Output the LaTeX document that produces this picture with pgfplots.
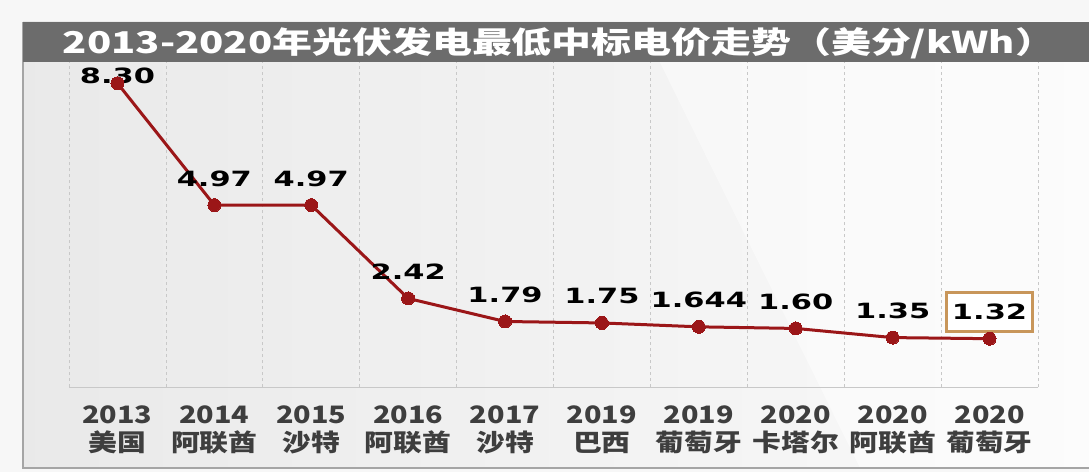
\documentclass[border=0pt]{standalone}
\usepackage{fontspec}
\usepackage{pgfplots}
\usepackage{pgfplotstable}
\pgfplotsset{compat=1.18}

\setmainfont{DejaVu Sans}
\newfontfamily\cjk{Noto Sans CJK SC}[FakeStretch=1.33]
\newfontfamily\cjklab{Noto Sans CJK SC}[FakeStretch=1.2]
\newfontfamily\numfont{DejaVu Sans}[FakeStretch=1.45]

\definecolor{linered}{RGB}{155,22,24}
\definecolor{titlegray}{RGB}{108,108,108}
\definecolor{gridgray}{RGB}{200,200,200}
\definecolor{labgray}{RGB}{62,62,62}
\definecolor{boxorange}{RGB}{200,150,90}
\definecolor{framegray}{RGB}{165,165,165}

% lowest winning PV bid per year (US cents/kWh)
\pgfplotstableread{
idx price label
0 8.30  8.30
1 4.97  4.97
2 4.97  4.97
3 2.42  2.42
4 1.79  1.79
5 1.75  1.75
6 1.644 1.644
7 1.60  1.60
8 1.35  1.35
9 1.32  1.32
}\pricetable

\begin{document}
\begin{tikzpicture}
% background, frame and title bar
\fill[gray!6] (0pt,0pt) rectangle (1089pt,472pt);
\shade[left color=gray!17, right color=gray!4] (23pt,4pt) rectangle (1089pt,450pt);
\fill[white, opacity=0.45] (640pt,450pt) -- (1089pt,450pt) -- (1089pt,4pt) -- (860pt,4pt) -- cycle;
\draw[framegray, line width=1.5pt] (23pt,450pt) -- (23pt,4pt) -- (1089pt,4pt);
\fill[titlegray] (23pt,410pt) rectangle (1089pt,450pt);
\node[text=white, font=\cjk\bfseries\fontsize{30}{30}\selectfont] at (559pt,429pt)
  {2013-2020年光伏发电最低中标电价走势（美分/kWh）};

\begin{axis}[
    at={(117.45pt,85pt)}, anchor=origin,
    scale only axis, width=969pt, height=325pt,
    xmin=-0.5, xmax=9.5, ymin=0, ymax=8.88,
    clip=false,
    axis y line=none,
    axis x line*=bottom,
    x axis line style={draw=gridgray, line width=1pt},
    xtick={0,...,9},
    xticklabels={{2013\\美国},{2014\\阿联酋},{2015\\沙特},{2016\\阿联酋},{2017\\沙特},
                 {2019\\巴西},{2019\\葡萄牙},{2020\\卡塔尔},{2020\\阿联酋},{2020\\葡萄牙}},
    xticklabel style={align=center, text=labgray, yshift=-15pt,
        font=\cjklab\bfseries\fontsize{24}{28}\selectfont},
    major tick length=0pt,
    minor xtick={-0.5,0.5,...,9.5},
    minor tick length=0pt,
    xminorgrids,
    minor grid style={gridgray, dash pattern=on 3pt off 3pt, line width=0.8pt},
]
\addplot[linered, line width=3pt, mark=*, mark size=6.5pt,
    mark options={fill=linered, line width=0pt}]
    table[x=idx, y=price] {\pricetable};

\addplot[draw=none, mark=none,
    skip coords between index={0}{1},
    skip coords between index={9}{10},
    nodes near coords, point meta=explicit symbolic,
    every node near coord/.append style={anchor=base, yshift=19pt,
        font=\numfont\bfseries\fontsize{21}{21}\selectfont, text=black}]
    table[x=idx, y=price, meta=label] {\pricetable};

\node[anchor=base, font=\numfont\bfseries\fontsize{21}{21}\selectfont]
    at (axis cs:0,8.30) {8.30};
\node[draw=boxorange, line width=3pt, fill=white, minimum width=86pt, minimum height=39pt,
    font=\numfont\bfseries\fontsize{21}{21}\selectfont, yshift=27pt]
    at (axis cs:9,1.32) {1.32};
\end{axis}
\pgfresetboundingbox
\path[use as bounding box] (0pt,0pt) rectangle (1089pt,472pt);
\end{tikzpicture}
\end{document}
